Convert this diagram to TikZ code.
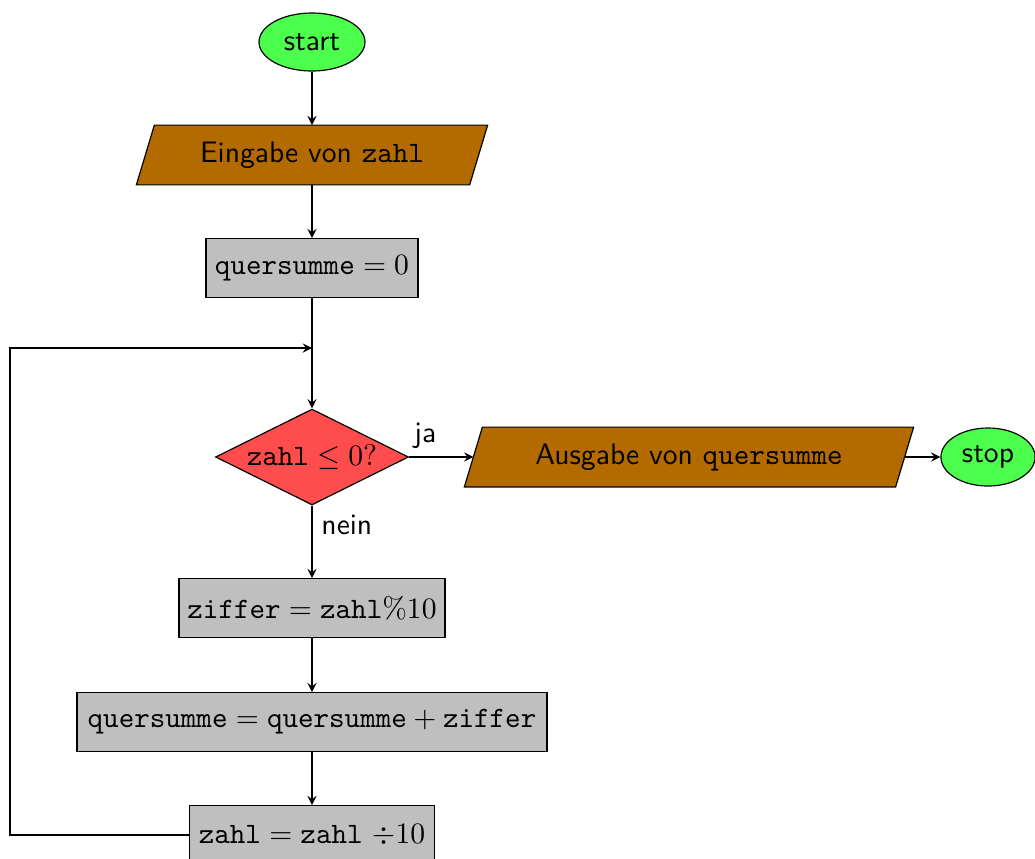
\documentclass[tikz,border=0pt]{standalone}
\usetikzlibrary{shapes.geometric,arrows,backgrounds}
\definecolor{iobrown}{RGB}{179,107,0}
\begin{document}
\begin{tikzpicture}[x=0.33784pt,y=-0.33784pt,
  every node/.style={inner sep=0pt},
  arr/.style={draw,-stealth},
  term/.style={ellipse,draw,fill=green!70,minimum height=19.6pt,font=\sffamily},
  proc/.style={rectangle,draw,fill=lightgray,minimum height=19.8pt},
  io/.style={rectangle,minimum height=19.8pt,font=\sffamily},
  decision/.style={diamond,draw,fill=red!70,aspect=2,minimum width=65.2pt,minimum height=32.4pt},
  lbl/.style={font=\sffamily}]
\useasboundingbox (0,0) rectangle (1035,858);
\node[term,minimum width=35.8pt] (start) at (312,42) {start};
\node[io,minimum width=112.2pt] (in) at (312,155) {Eingabe von \texttt{zahl}};
\node[proc,minimum width=71.6pt] (q0) at (312,268) {$\texttt{quersumme}=0$};
\coordinate (merge) at (312,348);
\coordinate (corner) at (10,348);
\node[decision] (dec) at (312,457) {$\texttt{zahl}\leq 0?$};
\node[io,minimum width=145.3pt] (out) at (689,457) {Ausgabe von \texttt{quersumme}};
\node[term,minimum width=31.8pt] (stop) at (988,457) {stop};
\node[proc,minimum width=89.9pt] (zif) at (312,608) {$\texttt{ziffer}=\texttt{zahl}\%10$};
\node[proc,minimum width=158.8pt] (qs) at (312,722) {$\texttt{quersumme}=\texttt{quersumme}+\texttt{ziffer}$};
\node[proc,minimum width=82.8pt] (zahl) at (312,835) {$\texttt{zahl}=\texttt{zahl}\ {\div}10$};
\begin{scope}[on background layer]
  \foreach \n in {in,out}
    \filldraw[fill=iobrown] ([xshift=3.04pt]\n.north west) -- ([xshift=3.04pt]\n.north east)
      -- ([xshift=-3.04pt]\n.south east) -- ([xshift=-3.04pt]\n.south west) -- cycle;
\end{scope}
\draw[arr] (start) -- (in);
\draw[arr] (in) -- (q0);
\draw[arr] (q0) -- (dec);
\draw[arr] (zahl.west) -| (corner) -- (merge);
\draw[arr] (dec) -- node[lbl,pos=0.25,above=2.5pt] {ja} (out);
\draw[arr] (dec) -- node[lbl,pos=0.27,right=3pt] {nein} (zif);
\draw[arr] (out) -- (stop);
\draw[arr] (zif) -- (qs);
\draw[arr] (qs) -- (zahl);
\end{tikzpicture}
\end{document}
